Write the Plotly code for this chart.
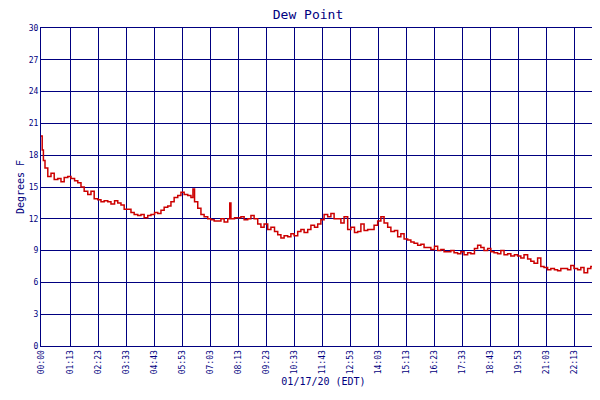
import plotly.graph_objects as go

# minutes since midnight and dew point readings
minutes = [0, 3, 6, 10, 17, 25, 33, 42, 50, 58, 67, 75, 84, 92, 100, 108, 117, 125, 133, 142,
           150, 158, 167, 175, 184, 192, 200, 208, 217, 225, 233, 242, 250, 258, 267, 275, 284,
           292, 300, 308, 317, 325, 333, 342, 350, 358, 367, 375, 380, 384, 392, 400, 408, 417,
           425, 433, 442, 450, 458, 467, 472, 475, 484, 492, 500, 508, 517, 525, 533, 542, 550,
           558, 567, 575, 584, 592, 600, 608, 617, 625, 633, 642, 650, 658, 667, 675, 684, 692,
           700, 708, 717, 725, 733, 742, 750, 758, 767, 775, 784, 792, 800, 808, 817, 825, 833,
           842, 850, 858, 867, 875, 884, 892, 900, 908, 917, 925, 933, 942, 950, 958, 967, 975,
           984, 992, 1000, 1008, 1017, 1025, 1033, 1042, 1050, 1058, 1067, 1075, 1084, 1092, 1100,
           1108, 1117, 1125, 1133, 1142, 1150, 1158, 1167, 1175, 1184, 1192, 1200, 1208, 1217,
           1225, 1233, 1242, 1250, 1258, 1267, 1275, 1284, 1292, 1300, 1308, 1317, 1325, 1333,
           1342, 1350, 1358, 1367, 1375, 1384, 1392, 1400, 1408, 1413]
dew_point = [19.8, 18.5, 17.5, 16.8, 16.0, 16.3, 15.7, 15.8, 15.5, 15.9, 16.0, 15.8, 15.6, 15.4,
             15.0, 14.6, 14.3, 14.6, 13.9, 13.8, 13.6, 13.7, 13.6, 13.4, 13.7, 13.5, 13.3, 12.9,
             12.9, 12.6, 12.4, 12.3, 12.4, 12.1, 12.3, 12.4, 12.6, 12.5, 12.8, 13.1, 13.2, 13.6,
             14.0, 14.2, 14.5, 14.3, 14.2, 14.0, 14.8, 13.6, 13.0, 12.4, 12.2, 12.0, 11.9, 11.8,
             11.8, 12.0, 11.7, 12.0, 13.5, 12.0, 12.1, 12.1, 12.2, 11.9, 12.0, 12.3, 12.0, 11.5,
             11.2, 11.5, 11.0, 11.2, 10.8, 10.5, 10.2, 10.4, 10.3, 10.6, 10.4, 10.8, 11.0, 10.7,
             11.0, 11.4, 11.2, 11.5, 11.9, 12.4, 12.2, 12.5, 12.0, 12.0, 11.6, 12.2, 11.0, 11.2,
             10.7, 10.8, 11.5, 10.9, 11.0, 11.0, 11.4, 11.8, 12.2, 11.6, 11.2, 10.8, 10.9, 10.3,
             10.6, 10.1, 10.0, 9.8, 9.7, 9.5, 9.6, 9.3, 9.3, 9.1, 9.4, 9.0, 9.1, 8.9, 8.9, 9.0,
             8.8, 8.7, 8.9, 8.6, 8.8, 8.7, 9.2, 9.5, 9.3, 9.0, 9.2, 8.9, 8.8, 8.7, 9.0, 8.6, 8.7,
             8.5, 8.6, 8.5, 8.3, 8.6, 8.2, 8.0, 7.8, 8.3, 7.5, 7.4, 7.2, 7.3, 7.2, 7.1, 7.3, 7.3,
             7.2, 7.6, 7.3, 7.2, 7.4, 6.9, 7.3, 7.5, 7.7, 7.6, 7.9, 7.6, 7.5]

tick_vals = [0, 73, 143, 213, 283, 353, 423, 493, 563, 633, 703, 773, 843, 913, 983, 1053,
             1123, 1193, 1263, 1333, 1403, 1408]
tick_text = ["00:00", "01:13", "02:23", "03:33", "04:43", "05:53", "07:03", "08:13", "09:23",
             "10:33", "11:43", "12:53", "14:03", "15:13", "16:23", "17:33", "18:43", "19:53",
             "21:03", "22:13", "23:23", "23:28"]

navy = "#000080"
font = dict(family="DejaVu Sans Mono", size=8, color=navy)

fig = go.Figure(go.Scatter(x=minutes, y=dew_point, mode="lines", line_shape="hv",
                           line=dict(color="#cc0000", width=1.5), name="Dew Point"))

fig.update_layout(
    width=600, height=400, paper_bgcolor="white", plot_bgcolor="white",
    margin=dict(l=33, r=2, t=20, b=62, autoexpand=False),
    title=dict(text="Dew Point", x=0.5, y=0.995, yanchor="top",
               font=dict(family="DejaVu Sans Mono", size=13, color=navy)),
    font=font, showlegend=True,
    legend=dict(orientation="h", x=0.5, xanchor="center", y=-0.155, yanchor="top",
                font=dict(family="DejaVu Sans Mono", size=8, color=navy)),
)
fig.update_xaxes(range=[0, 1413], tickvals=tick_vals, ticktext=tick_text, tickangle=-90,
                 showgrid=True, gridcolor=navy, gridwidth=1, zeroline=False,
                 showline=True, linecolor=navy, linewidth=1, mirror=True, ticks="",
                 title=dict(text="01/17/20 (EDT)", standoff=4, font=dict(size=10)))
fig.update_yaxes(range=[0, 30], dtick=3, showgrid=True, gridcolor=navy, gridwidth=1,
                 zeroline=False, showline=True, linecolor=navy, linewidth=1, mirror=True,
                 ticks="", title=dict(text="Degrees F", standoff=2, font=dict(size=10)))

fig.write_html("out.html")
